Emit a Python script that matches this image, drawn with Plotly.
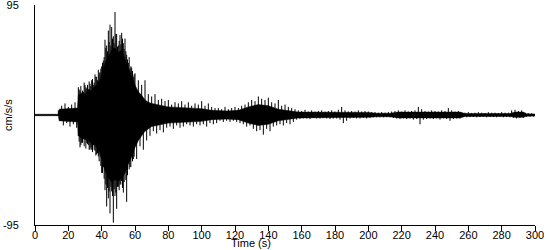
import plotly.graph_objects as go

# ---- data (cm/s/s) ----
# Solid core of the record: upper / lower boundary of the dense black band
core_t  = [0, 14, 14.5, 25.5, 26, 28, 30, 32, 34, 36, 38, 40, 42, 44, 46, 48, 50, 52,
           54, 56, 58, 60, 62, 64, 66, 68, 70, 80, 90,
           100, 106, 115, 122, 128, 134, 140, 146, 152, 158, 200, 205, 213, 218,
           255, 258, 285, 288, 293, 295, 300]
core_hi = [0.6, 0.6, 5, 6, 17, 19, 18, 22, 21, 25, 27, 35, 45, 50, 56, 58, 54, 56,
           48, 40, 33, 26, 20, 17, 13, 11, 10, 7, 6,
           5.5, 4, 3.5, 4, 7, 9, 8, 5, 4, 2.5, 2.2, 1.5, 1.5, 2.5,
           2.5, 1.2, 1.2, 2.5, 2.5, 1, 0.8]
core_lo = [-0.6, -0.6, -5, -6, -18, -20, -21, -22, -25, -26, -30, -38, -48, -54, -58, -56, -57, -55,
           -50, -42, -36, -28, -22, -18, -14, -12, -10, -7, -6,
           -5.5, -4, -3.5, -4, -7, -9, -8, -5, -4, -2.5, -2, -1.5, -1.5, -2.5,
           -2.5, -1.2, -1.2, -2, -2, -1, -0.8]

# Individual spikes: positive peaks at t = 0, 2, ... 298 s ; negative at t = 1, 3, ... 299 s
t_pos = list(range(0, 300, 2))
t_neg = list(range(1, 300, 2))
peak_pos = [
    0.6, 0.6, 0.6, 0.6, 0.6, 0.6, 0.6,                     # 0-12
    4, 8, 10, 7, 9, 11,                                    # 14-24
    24, 18, 26, 22, 30, 35, 39, 42, 65, 73,                # 26-44
    76, 89, 60, 71, 66, 45, 41, 36, 30, 26,                # 46-64
    30, 18, 16, 18, 13, 14, 12, 13, 9, 11,                 # 66-84
    10, 12, 9, 11, 8, 10, 9, 12, 8, 10,                    # 86-104
    7, 6, 6, 5, 7, 5, 6, 7, 6, 8,                          # 106-124
    9, 11, 13, 12, 16, 14, 13, 15, 11, 10,                 # 126-144
    13, 8, 9, 7, 6, 5, 4, 3.5, 4.5, 3,                     # 146-164
    4, 3, 3.5, 4, 3, 3.5, 4, 3, 4.5, 7,                    # 166-184
    4, 3, 3.5, 3, 4, 3, 3.5, 3, 2.5, 2.5,                  # 186-204
    2, 2.5, 2, 2.5, 3, 3.5, 4, 3, 4, 3,                    # 206-224
    3.5, 4, 7, 5, 3.5, 3, 4, 3.5, 3, 4,                    # 226-244
    3.5, 6, 4, 3, 3.5, 2, 2, 2.5, 1.8, 2,                  # 246-264
    2.5, 2, 1.8, 2.5, 2, 2, 1.8, 2.5, 2, 2,                # 266-284
    4, 4.5, 3.5, 4, 1.8, 1.5, 1.5,                         # 286-298
]
peak_neg = [
    -0.6, -0.6, -0.6, -0.6, -0.6, -0.6, -0.6,
    -5, -9, -7, -10, -8, -11,
    -28, -20, -24, -30, -26, -34, -30, -45, -79, -85,
    -93, -81, -60, -67, -75, -45, -38, -38, -27, -30,
    -22, -18, -14, -16, -13, -15, -11, -10, -12, -9,
    -11, -10, -8, -9, -10, -8, -9, -8, -10, -7,
    -8, -7, -5, -6, -5, -6, -5, -6, -7, -8,
    -10, -9, -12, -14, -13, -17, -12, -14, -10, -9,
    -8, -9, -7, -8, -6, -4, -3.5, -3, -3, -3.5,
    -2.5, -3, -3, -2.5, -3, -3.5, -3, -3, -4, -7,
    -5, -3, -2.5, -3, -3, -2.5, -3, -2.5, -2, -2,
    -2, -2, -1.8, -2, -2.5, -3, -3.5, -3, -3.5, -3,
    -4, -3.5, -8, -4, -3.5, -3, -3.5, -3, -4, -3,
    -3.5, -5, -3.5, -3, -3, -1.8, -2, -1.8, -1.8, -2,
    -1.8, -1.5, -2, -1.8, -1.8, -2, -1.5, -2, -1.8, -2,
    -2.5, -3, -2.5, -2.5, -1.5, -1.5, -1.5,
]
# Extra spikes inside the main shaking (26-59 s)
extra_pos_t = list(range(27, 60, 2))
extra_pos   = [21, 20, 23, 27, 26, 33, 37, 47, 60, 78, 68, 70, 69, 62, 52, 40, 33]
extra_neg_t = list(range(26, 59, 2))
extra_neg   = [-18, -24, -21, -26, -30, -31, -36, -50, -65, -72, -66, -70, -62, -57, -48, -42, -35]
# Short ragged strokes along the edge of the main shaking (26.5-59.5 s)
fill_t   = [x + 0.5 for x in range(26, 60)]
fill_pos = [22, 25, 21, 28, 24, 26, 29, 25, 31, 28, 33, 30, 36, 40, 45, 50, 58,
            55, 63, 60, 66, 62, 70, 59, 64, 61, 66, 57, 55, 48, 50, 42, 38, 35]
fill_neg = [-23, -26, -24, -27, -29, -25, -30, -28, -32, -30, -35, -33, -40, -44, -50, -55, -60,
            -63, -66, -62, -70, -64, -67, -62, -65, -60, -63, -58, -56, -52, -47, -45, -40, -36]

x_tick_vals = list(range(0, 301, 20))
y_tick_vals = [-95, 95]
y_tick_text = ["-95", "95"]

FONT = "Liberation Sans, Arial, sans-serif"

# core band polygon
band_x = core_t + core_t[::-1]
band_y = core_hi + core_lo[::-1]

# spikes as vertical strokes from 0
sx, sy = [], []
for tt, vv in zip(t_pos + t_neg + extra_pos_t + extra_neg_t + fill_t + fill_t,
                  peak_pos + peak_neg + extra_pos + extra_neg + fill_pos + fill_neg):
    sx += [tt, tt, None]
    sy += [0, vv, None]

fig = go.Figure()
fig.add_trace(go.Scatter(
    x=band_x, y=band_y, mode="lines", fill="toself",
    fillcolor="black", line=dict(color="black", width=0.5),
    hoverinfo="skip", showlegend=False,
))
fig.add_trace(go.Scatter(
    x=sx, y=sy, mode="lines", connectgaps=False,
    line=dict(color="black", width=1),
    hoverinfo="skip", showlegend=False,
))

fig.update_layout(
    width=550, height=250,
    margin=dict(l=35, r=15, t=5, b=25, autoexpand=False),
    paper_bgcolor="white", plot_bgcolor="white",
    font=dict(family=FONT, size=11, color="black"),
    xaxis=dict(
        range=[0, 300], tickvals=x_tick_vals, automargin=False,
        ticks="outside", ticklen=5, tickcolor="black", tickwidth=1,
        showline=True, linecolor="black", linewidth=1,
        showgrid=False, zeroline=False, ticklabelstandoff=-5,
    ),
    yaxis=dict(
        range=[-95, 95], tickvals=y_tick_vals, ticktext=y_tick_text,
        ticks="", showline=True, linecolor="black", linewidth=1, automargin=False,
        showgrid=False, zeroline=False, ticklabelstandoff=13,
        ticklabeloverflow="allow",
    ),
    annotations=[
        dict(text="Time (s)", xref="paper", yref="paper",
             x=0.432, y=-0.1136, xanchor="center", yanchor="bottom", borderpad=0,
             showarrow=False, font=dict(family=FONT, size=11)),
        dict(text="cm/s/s", xref="paper", yref="paper",
             x=-0.054, y=0.5, textangle=-90, xanchor="center", yanchor="middle",
             showarrow=False, font=dict(family=FONT, size=11)),
    ],
)

fig.write_html("out.html")
